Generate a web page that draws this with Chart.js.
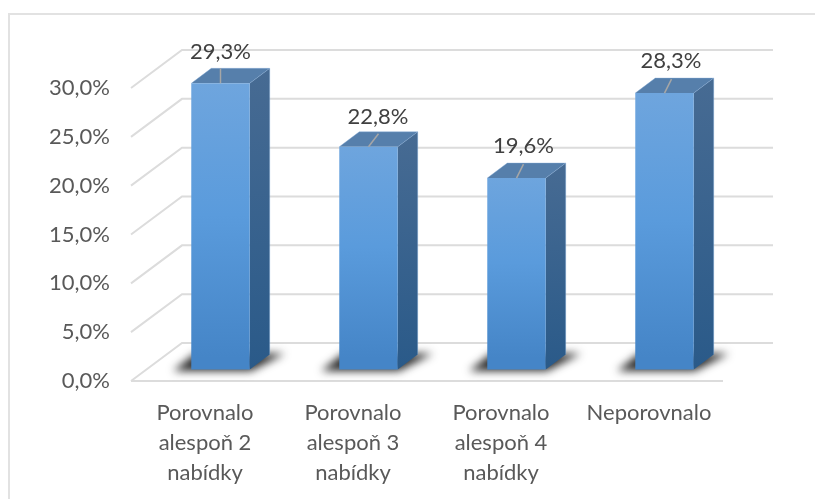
<!DOCTYPE html>
<html lang="cs">
<head>
<meta charset="utf-8">
<title>Porovnání nabídek</title>
<script src="https://cdn.jsdelivr.net/npm/chart.js@4"></script>
<style>
  html, body { margin: 0; padding: 0; background: #fff; }
  #wrap { position: relative; width: 815px; height: 499px; }
  canvas { display: block; }
</style>
</head>
<body>
<div id="wrap"><canvas id="chart" width="815" height="499"></canvas></div>
<script>
// Share of respondents by how many offers they compared
const categories = [
  ['Porovnalo', 'alespoň 2', 'nabídky'],
  ['Porovnalo', 'alespoň 3', 'nabídky'],
  ['Porovnalo', 'alespoň 4', 'nabídky'],
  'Neporovnalo'
];
const shares = [29.3, 22.8, 19.6, 28.3];
const axisMax = 30;
const axisStep = 5;

const fontFamily = 'Lato, "Open Sans", sans-serif';
const fontSize = 22;
const fmt = v => v.toFixed(1).replace('.', ',') + '%';

// Pseudo-3D projection: wall depth and how far the columns sit inside the box
const wall = { dx: 51, dy: -38 };
const inset = { dx: 15.5, dy: -11.5 };
const column = { dx: 20, dy: -15 };
// Leader-line ends, relative to the middle of each column's front top edge
const leaders = [[0, -15], [10, -13], [7, -14], [7, -14]];
const labelLift = [-31, -30, -32, -32];
const labelShift = [0, 9.5, 7, 6.5];

const box3d = {
  id: 'box3d',
  beforeDatasetsDraw(chart) {
    const { ctx, scales: { x, y } } = chart;
    const left = x.left, right = x.right;
    ctx.save();
    // Floor and side wall grid
    ctx.strokeStyle = '#dcdcdc';
    ctx.lineWidth = 2;
    y.ticks.forEach(t => {
      const py = y.getPixelForValue(t.value);
      ctx.beginPath();
      ctx.moveTo(left, py);
      ctx.lineTo(left + wall.dx, py + wall.dy);
      ctx.lineTo(right + wall.dx - 1, py + wall.dy);
      ctx.stroke();
    });
    ctx.beginPath();
    ctx.moveTo(left, y.getPixelForValue(0));
    ctx.lineTo(right, y.getPixelForValue(0));
    ctx.stroke();

    // Soft ground shadow, then side and top faces of each column
    ctx.translate(inset.dx, inset.dy);
    chart.getDatasetMeta(0).data.forEach(bar => {
      const l = bar.x - bar.width / 2, r = bar.x + bar.width / 2;
      const top = bar.y, base = bar.base;
      const d = column;

      ctx.save();
      ctx.filter = 'blur(4px)';
      ctx.fillStyle = 'rgba(20,20,20,0.9)';
      ctx.beginPath();
      ctx.moveTo(l - 18, base + 1.5);
      ctx.lineTo(r + 1, base + 1.5);
      ctx.lineTo(r + d.dx + 15, base + d.dy - 1);
      ctx.lineTo(l + 4, base + d.dy - 1);
      ctx.closePath();
      ctx.fill();
      ctx.restore();

      const side = ctx.createLinearGradient(0, top + d.dy, 0, base);
      side.addColorStop(0, '#476b93');
      side.addColorStop(1, '#2a5a89');
      ctx.fillStyle = side;
      ctx.beginPath();
      ctx.moveTo(r, top);
      ctx.lineTo(r + d.dx, top + d.dy);
      ctx.lineTo(r + d.dx, base + d.dy);
      ctx.lineTo(r, base);
      ctx.closePath();
      ctx.fill();

      ctx.fillStyle = '#567fab';
      ctx.beginPath();
      ctx.moveTo(l, top);
      ctx.lineTo(l + d.dx, top + d.dy);
      ctx.lineTo(r + d.dx, top + d.dy);
      ctx.lineTo(r, top);
      ctx.closePath();
      ctx.fill();

      ctx.strokeStyle = 'rgba(130,170,215,0.4)';
      ctx.lineWidth = 1;
      ctx.beginPath();
      ctx.moveTo(l, top);
      ctx.lineTo(l + d.dx, top + d.dy);
      ctx.lineTo(r + d.dx, top + d.dy);
      ctx.lineTo(r + d.dx, base + d.dy);
      ctx.moveTo(r + d.dx, top + d.dy);
      ctx.lineTo(r, top);
      ctx.stroke();
    });
    ctx.restore();

    // Front faces are drawn by the bar elements, shifted the same way
    ctx.save();
    ctx.translate(inset.dx, inset.dy);
  },
  afterDatasetsDraw(chart) {
    const { ctx } = chart;
    ctx.restore();
    ctx.save();
    ctx.translate(inset.dx, inset.dy);
    ctx.textAlign = 'center';
    ctx.textBaseline = 'middle';
    ctx.font = fontSize + 'px ' + fontFamily;
    chart.getDatasetMeta(0).data.forEach((bar, i) => {
      const [lx, ly] = leaders[i];
      ctx.strokeStyle = '#a6a6a6';
      ctx.lineWidth = 1.5;
      ctx.beginPath();
      ctx.moveTo(bar.x, bar.y);
      ctx.lineTo(bar.x + lx, bar.y + ly);
      ctx.stroke();
      ctx.fillStyle = '#404040';
      ctx.fillText(fmt(shares[i]), bar.x + labelShift[i], bar.y + labelLift[i]);
    });
    ctx.restore();
  }
};

// Frame of the chart: only the top and left edges show
const frame = {
  id: 'frame',
  beforeDraw(chart) {
    const { ctx, width, height } = chart;
    ctx.save();
    ctx.strokeStyle = '#e2e2e2';
    ctx.lineWidth = 2;
    ctx.beginPath();
    ctx.moveTo(9, height);
    ctx.lineTo(9, 14);
    ctx.lineTo(width, 14);
    ctx.stroke();
    ctx.restore();
  }
};

new Chart(document.getElementById('chart'), {
  type: 'bar',
  data: {
    labels: categories,
    datasets: [{
      data: shares,
      clip: false,
      borderWidth: 0,
      categoryPercentage: 1,
      barPercentage: 0.395,
      backgroundColor(ctx) {
        const { chart } = ctx;
        const yScale = chart.scales.y;
        if (!chart.chartArea || !yScale || ctx.raw === undefined) return '#5b9bd5';
        const g = chart.ctx.createLinearGradient(
          0, yScale.getPixelForValue(ctx.raw) + inset.dy,
          0, yScale.getPixelForValue(0) + inset.dy);
        g.addColorStop(0, '#70a6de');
        g.addColorStop(0.5, '#5a9bdc');
        g.addColorStop(1, '#4585c7');
        return g;
      }
    }]
  },
  plugins: [frame, box3d],
  options: {
    responsive: false,
    animation: false,
    layout: { padding: { top: 88, right: 92, left: 0, bottom: 0 } },
    plugins: { legend: { display: false }, tooltip: { enabled: false } },
    scales: {
      x: {
        grid: { display: false },
        border: { display: false },
        afterFit(s) { s.height = 118; },
        ticks: {
          color: '#595959',
          padding: 9,
          autoSkip: false,
          maxRotation: 0,
          font: { family: fontFamily, size: fontSize, lineHeight: 1.36 }
        }
      },
      y: {
        min: 0,
        max: axisMax,
        grid: { display: false },
        border: { display: false },
        afterFit(s) { s.width = 131; },
        ticks: {
          stepSize: axisStep,
          color: '#595959',
          padding: 13,
          font: { family: fontFamily, size: fontSize },
          callback: v => fmt(v)
        }
      }
    }
  }
});
</script>
</body>
</html>
